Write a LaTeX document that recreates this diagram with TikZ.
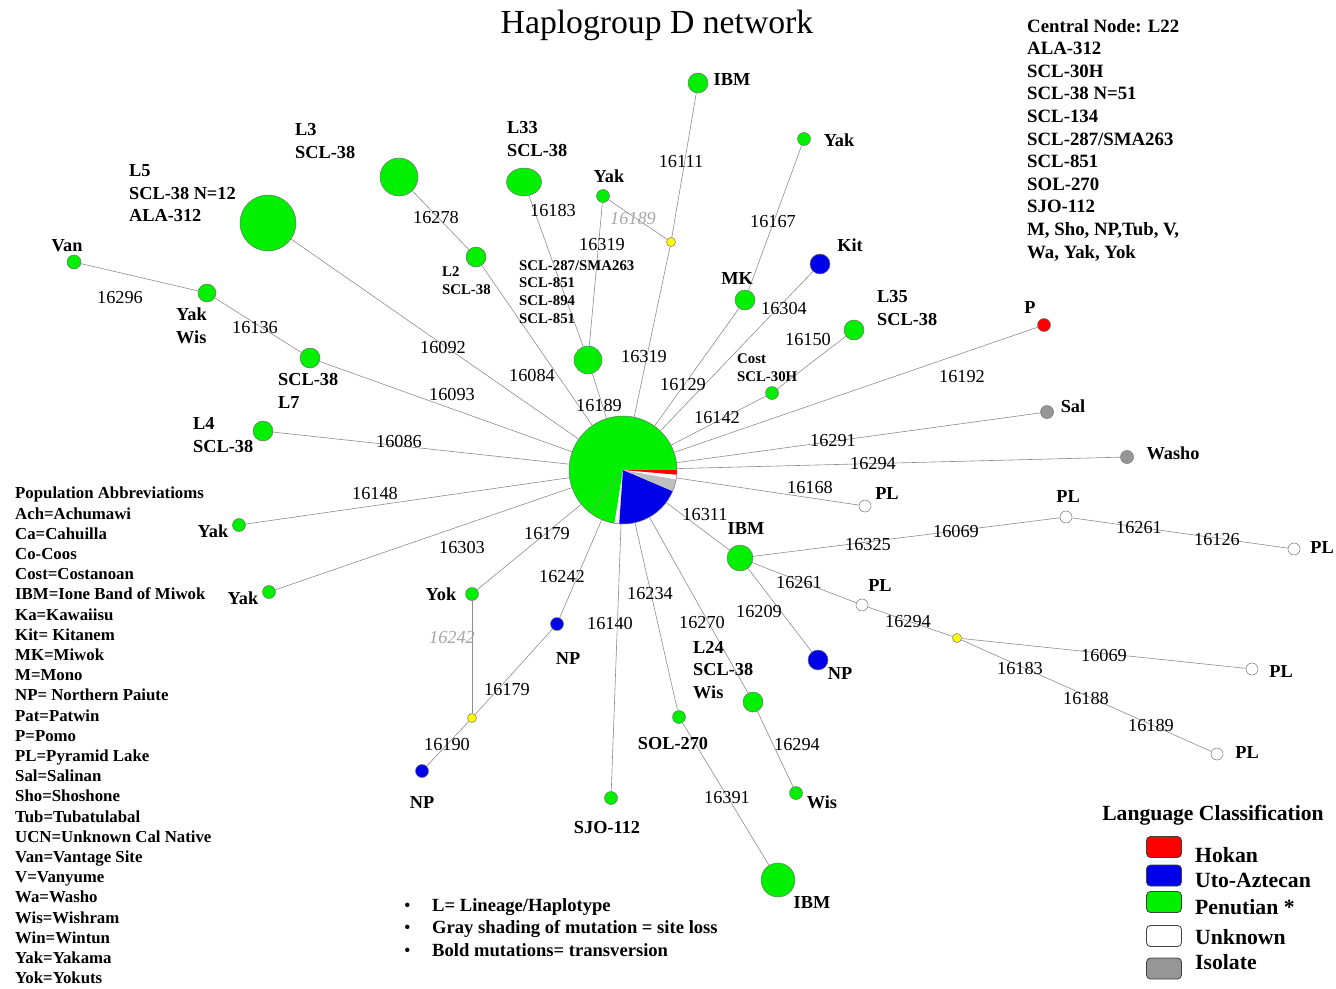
\documentclass[tikz,border=0pt]{standalone}
\usepackage{fontspec}
\setmainfont{Liberation Serif}
\usetikzlibrary{shapes.geometric}

\definecolor{hokan}{RGB}{255,0,0}
\definecolor{utoaz}{RGB}{0,0,235}
\definecolor{penutian}{RGB}{0,240,0}
\definecolor{isolate}{RGB}{150,150,150}
\definecolor{median}{RGB}{255,255,0}

\begin{document}
\begin{tikzpicture}[x=1pt, y=-1pt,
    hap/.style={circle, draw=black!55, line width=0.5pt, inner sep=0pt, minimum size=#1},
    pnode/.style={hap=#1, fill=penutian}, pnode/.default=13pt,
    unode/.style={hap=#1, fill=utoaz}, unode/.default=13pt,
    hnode/.style={hap=#1, fill=hokan}, hnode/.default=13pt,
    wnode/.style={hap=#1, fill=white}, wnode/.default=12pt,
    inode/.style={hap=#1, fill=isolate}, inode/.default=13pt,
    mvec/.style={hap=9pt, fill=median},
    link/.style={draw=black!45, line width=0.6pt},
    mut/.style={font=\fontsize{18.3}{20}\selectfont, inner sep=0pt},
    lost/.style={font=\fontsize{18.3}{20}\selectfont\itshape, text=black!35, inner sep=0pt},
    lab/.style={font=\bfseries\fontsize{18.3}{22.5}\selectfont, inner sep=0pt, align=left},
    slab/.style={font=\bfseries\fontsize{14.8}{17.8}\selectfont, inner sep=0pt, align=left},
    legbox/.style={draw=black!75, line width=0.8pt, rounded corners=4pt, minimum width=35pt, minimum height=21pt, inner sep=0pt},
    legtext/.style={font=\bfseries\fontsize{21.7}{24}\selectfont, inner sep=0pt, anchor=west}]

  \useasboundingbox (0,0) rectangle (1336,988);

  % title and text blocks
  \node[font=\fontsize{33.7}{38}\selectfont] (title) at (657,25) {Haplogroup D network};

  \node[font=\bfseries\fontsize{18.8}{22.6}\selectfont, align=left, inner sep=0pt, anchor=west] (centrallist) at (1027,140) {%
    Central Node: L22\\ALA-312\\SCL-30H\\SCL-38 N=51\\SCL-134\\SCL-287/SMA263\\SCL-851\\SOL-270\\SJO-112\\M, Sho, NP,Tub, V,\\Wa, Yak, Yok};

  \node[font=\bfseries\fontsize{16.8}{20.2}\selectfont, align=left, inner sep=0pt, anchor=west] (abbrev) at (15,735.5) {%
    Population Abbreviatioms\\Ach=Achumawi\\Ca=Cahuilla\\Co-Coos\\Cost=Costanoan\\IBM=Ione Band of Miwok\\Ka=Kawaiisu\\
    Kit= Kitanem\\MK=Miwok\\M=Mono\\NP= Northern Paiute\\Pat=Patwin\\P=Pomo\\PL=Pyramid Lake\\Sal=Salinan\\Sho=Shoshone\\
    Tub=Tubatulabal\\UCN=Unknown Cal Native\\Van=Vantage Site\\V=Vanyume\\Wa=Washo\\Wis=Wishram\\Win=Wintun\\Yak=Yakama\\Yok=Yokuts};

  \node[font=\bfseries\fontsize{18.6}{22.5}\selectfont, align=left, inner sep=0pt, anchor=west] (notes) at (404,927.5) {%
    \makebox[28pt][l]{\mdseries\textbullet}L= Lineage/Haplotype\\
    \makebox[28pt][l]{\mdseries\textbullet}Gray shading of mutation = site loss\\
    \makebox[28pt][l]{\mdseries\textbullet}Bold mutations= transversion};

  % central node L22 as a pie
  \node[circle, minimum size=108pt, inner sep=0pt] (c) at (623,470) {};
  \begin{scope}[shift={(c.center)}, x=1pt, y=1pt]
    \fill[penutian] (0,0) -- (0:54) arc[start angle=0, end angle=233, radius=54pt] -- cycle;
    \fill[penutian] (0,0) -- (-127:54) arc[start angle=-127, end angle=-99, radius=54pt] -- cycle;
    \fill[blue!6] (0,0) -- (-99:54) arc[start angle=-99, end angle=-94, radius=54pt] -- cycle;
    \fill[utoaz] (0,0) -- (-94:54) arc[start angle=-94, end angle=-23, radius=54pt] -- cycle;
    \fill[black!25] (0,0) -- (-23:54) arc[start angle=-23, end angle=-10, radius=54pt] -- cycle;
    \fill[white] (0,0) -- (-10:54) arc[start angle=-10, end angle=-5, radius=54pt] -- cycle;
    \fill[hokan] (0,0) -- (-5:54) arc[start angle=-5, end angle=0, radius=54pt] -- cycle;
    \draw[black!45, line width=0.4pt] (0,0) -- (-127:54);
  \end{scope}
  \draw[black!55, line width=0.5pt] (c.center) circle[radius=54pt];

  % haplotypes
  \node[pnode=56pt] (L5) at (268,223) {};
  \node[pnode=38pt] (L3) at (399,177) {};
  \node[pnode=20pt] (L2) at (476,257) {};
  \node[ellipse, draw=black!55, line width=0.5pt, fill=penutian, minimum width=35pt, minimum height=28pt, inner sep=0pt] (L33) at (524,182) {};
  \node[pnode=28pt] (sclgrp) at (588,360) {};
  \node[pnode] (yakA) at (603,196) {};
  \node[mvec] (mvA) at (671,242) {};
  \node[pnode=20pt] (ibmA) at (698,83) {};
  \node[pnode] (yakB) at (804,139) {};
  \node[pnode=20pt] (mk) at (745,300) {};
  \node[unode=20pt] (kit) at (820,264) {};
  \node[pnode=20pt] (l35) at (854,330) {};
  \node[pnode] (cost) at (772,393) {};
  \node[hnode] (p) at (1044,325) {};
  \node[inode] (sal) at (1047,412) {};
  \node[inode] (washo) at (1127,457) {};
  \node[wnode] (plA) at (865,506) {};
  \node[pnode=26pt] (ibmB) at (740,558) {};
  \node[wnode] (plB) at (1066,517) {};
  \node[wnode] (plC) at (1294,549) {};
  \node[wnode] (plD) at (862,605) {};
  \node[mvec] (mvB) at (957,638) {};
  \node[wnode] (plE) at (1252,669) {};
  \node[wnode] (plF) at (1217,754) {};
  \node[unode=20pt] (npA) at (818,660) {};
  \node[pnode=20pt] (l24) at (753,702) {};
  \node[pnode] (wis) at (796,793) {};
  \node[pnode] (sol) at (679,717) {};
  \node[pnode=34pt] (ibmC) at (778,880) {};
  \node[pnode] (sjo) at (611,798) {};
  \node[unode] (npB) at (557,624) {};
  \node[pnode] (yok) at (472,594) {};
  \node[mvec] (mvC) at (472,718) {};
  \node[unode] (npC) at (422,771) {};
  \node[pnode] (yakC) at (239,525) {};
  \node[pnode] (yakD) at (269,592) {};
  \node[pnode=20pt] (l4) at (263,431) {};
  \node[pnode=20pt] (l7) at (310,358) {};
  \node[pnode=18pt] (yakwis) at (207,293) {};
  \node[pnode=14pt] (van) at (74,262) {};

  % links
  \draw[link] (c) -- (L5);
  \draw[link] (c) -- (l7);
  \draw[link] (l7) -- (yakwis);
  \draw[link] (yakwis) -- (van);
  \draw[link] (c) -- (l4);
  \draw[link] (c) -- (yakC);
  \draw[link] (c) -- (yakD);
  \draw[link] (c) -- (L2);
  \draw[link] (L2) -- (L3);
  \draw[link] (c) -- (sclgrp);
  \draw[link] (sclgrp) -- (L33);
  \draw[link] (sclgrp) -- (yakA);
  \draw[link] (yakA) -- (mvA);
  \draw[link] (c) -- (mvA);
  \draw[link] (mvA) -- (ibmA);
  \draw[link] (c) -- (mk);
  \draw[link] (mk) -- (yakB);
  \draw[link] (c) -- (kit);
  \draw[link] (c) -- (cost);
  \draw[link] (cost) -- (l35);
  \draw[link] (c) -- (p);
  \draw[link] (c) -- (sal);
  \draw[link] (c) -- (washo);
  \draw[link] (c) -- (plA);
  \draw[link] (c) -- (ibmB);
  \draw[link] (ibmB) -- (plB);
  \draw[link] (plB) -- (plC);
  \draw[link] (ibmB) -- (plD);
  \draw[link] (plD) -- (mvB);
  \draw[link] (mvB) -- (plE);
  \draw[link] (mvB) -- (plF);
  \draw[link] (ibmB) -- (npA);
  \draw[link] (c) -- (l24);
  \draw[link] (l24) -- (wis);
  \draw[link] (c) -- (sol);
  \draw[link] (sol) -- (ibmC);
  \draw[link] (c) -- (sjo);
  \draw[link] (c) -- (npB);
  \draw[link] (c) -- (yok);
  \draw[link] (yok) -- (mvC);
  \draw[link] (mvC) -- (npB);
  \draw[link] (mvC) -- (npC);

  % mutations
  \node[mut] at (443,347) {16092};
  \node[mut] at (452,394) {16093};
  \node[mut] at (255,328) {16136};
  \node[mut] at (120,298) {16296};
  \node[mut] at (399,441) {16086};
  \node[mut] at (375,493) {16148};
  \node[mut] at (462,547) {16303};
  \node[mut] at (532,375) {16084};
  \node[mut] at (436,218) {16278};
  \node[mut] at (599,405) {16189};
  \node[mut] at (553,211) {16183};
  \node[mut] at (602,245) {16319};
  \node[lost] at (633,219) {16189};
  \node[mut] at (644,357) {16319};
  \node[mut] at (681,162) {16111};
  \node[mut] at (683,385) {16129};
  \node[mut] at (773,222) {16167};
  \node[mut] at (784,308) {16304};
  \node[mut] at (717,418) {16142};
  \node[mut] at (808,339) {16150};
  \node[mut] at (962,377) {16192};
  \node[mut] at (833,441) {16291};
  \node[mut] at (873,464) {16294};
  \node[mut] at (810,487) {16168};
  \node[mut] at (705,515) {16311};
  \node[mut] at (868,545) {16325};
  \node[mut] at (956,531) {16069};
  \node[mut] at (1139,528) {16261};
  \node[mut] at (1217,540) {16126};
  \node[mut] at (799,583) {16261};
  \node[mut] at (908,622) {16294};
  \node[mut] at (1104,655) {16069};
  \node[mut] at (1020,668) {16183};
  \node[mut] at (1086,698) {16188};
  \node[mut] at (1151,725) {16189};
  \node[mut] at (759,611) {16209};
  \node[mut] at (702,622) {16270};
  \node[mut] at (797,745) {16294};
  \node[mut] at (650,594) {16234};
  \node[mut] at (727,798) {16391};
  \node[mut] at (610,623) {16140};
  \node[mut] at (562,577) {16242};
  \node[mut] at (547,534) {16179};
  \node[lost] at (452,638) {16242};
  \node[mut] at (507,690) {16179};
  \node[mut] at (447,744) {16190};

  % population labels
  \node[lab, anchor=west] at (129,193.5) {L5\\SCL-38 N=12\\ALA-312};
  \node[lab, anchor=west] at (295,141) {L3\\SCL-38};
  \node[lab, anchor=west] at (507,139) {L33\\SCL-38};
  \node[slab, anchor=west] at (442,281) {L2\\SCL-38};
  \node[slab, anchor=west] at (519,292) {SCL-287/SMA263\\SCL-851\\SCL-894\\SCL-851};
  \node[lab, anchor=west] at (877,308) {L35\\SCL-38};
  \node[slab, anchor=west] at (737,368) {Cost\\SCL-30H};
  \node[lab, anchor=west] at (693,670) {L24\\SCL-38\\Wis};
  \node[lab, anchor=west] at (193,435) {L4\\SCL-38};
  \node[lab, anchor=west] at (278,391) {SCL-38\\L7};
  \node[lab, anchor=west] at (176,326) {Yak\\Wis};
  \node[lab] at (67,246) {Van};
  \node[lab] at (213,531) {Yak};
  \node[lab] at (243,598) {Yak};
  \node[lab] at (441,594) {Yok};
  \node[lab] at (568,658) {NP};
  \node[lab] at (422,802) {NP};
  \node[lab] at (607,828) {SJO-112};
  \node[lab] at (673,743) {SOL-270};
  \node[lab] at (812,903) {IBM};
  \node[lab] at (822,802) {Wis};
  \node[lab] at (840,673) {NP};
  \node[lab] at (746,529) {IBM};
  \node[lab] at (887,494) {PL};
  \node[lab] at (1068,497) {PL};
  \node[lab] at (1322,548) {PL};
  \node[lab] at (880,586) {PL};
  \node[lab] at (1281,671) {PL};
  \node[lab] at (1247,752) {PL};
  \node[lab] at (1173,453) {Washo};
  \node[lab] at (1073,406) {Sal};
  \node[lab] at (1030,308) {P};
  \node[lab] at (850,245) {Kit};
  \node[lab] at (737,279) {MK};
  \node[lab] at (839,140) {Yak};
  \node[lab] at (732,80) {IBM};
  \node[lab] at (609,176) {Yak};

  % language legend
  \node[font=\bfseries\fontsize{21.6}{24}\selectfont, inner sep=0pt] (legtitle) at (1213,815) {Language Classification};
  \node[legbox, fill=hokan] (hokbox) at (1164,847) {};
  \node[legbox, fill=utoaz] (utobox) at (1164,875.5) {};
  \node[legbox, fill=penutian] (penbox) at (1164,902) {};
  \node[legbox, fill=white] (unkbox) at (1164,936) {};
  \node[legbox, fill=isolate] (isobox) at (1164,968.5) {};
  \node[legtext] at (1195,855) {Hokan};
  \node[legtext] at (1195,880) {Uto-Aztecan};
  \node[legtext] at (1195,907) {Penutian *};
  \node[legtext] at (1195,937) {Unknown};
  \node[legtext] at (1195,962) {Isolate};
\end{tikzpicture}
\end{document}
